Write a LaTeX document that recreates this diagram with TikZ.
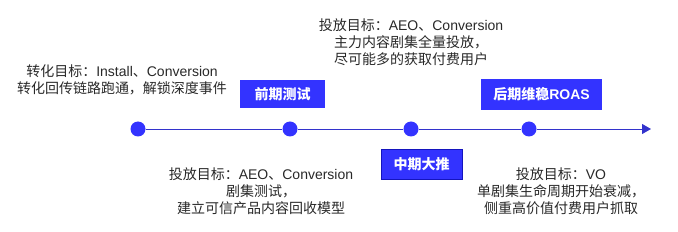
\documentclass[tikz,border=0pt]{standalone}
\usepackage{fontspec}
\setmainfont{Noto Sans CJK SC}
\newfontfamily\lat{Liberation Sans}
\newcommand{\en}[1]{{\lat #1}}
\usetikzlibrary{arrows.meta}
\definecolor{mainblue}{RGB}{51,51,255}
\definecolor{boxedge}{RGB}{20,20,190}
\definecolor{lineblue}{RGB}{51,51,204}
\definecolor{txt}{RGB}{40,40,40}
\tikzset{
  dot/.style={circle, fill=mainblue, draw=none, minimum size=15pt, inner sep=0pt},
  phase/.style={fill=mainblue, text=white, font=\fontsize{14pt}{16pt}\selectfont\bfseries, inner sep=0pt},
  desc/.style={text=txt, align=center, font=\fontsize{14pt}{17pt}\selectfont, inner sep=0pt},
  tline/.style={draw=lineblue, line width=0.9pt}
}
\begin{document}
\begin{tikzpicture}[x=1pt,y=-1pt]
\useasboundingbox (0,0) rectangle (678,232);
% dots
\node[dot] (d1) at (138,129) {};
\node[dot] (d2) at (290,129) {};
\node[dot] (d3) at (411,129) {};
\node[dot] (d4) at (529,129) {};
\coordinate (tip) at (651,129);
% timeline
\draw[tline] (d1) -- (d2);
\draw[tline] (d2) -- (d3);
\draw[tline] (d3) -- (d4);
\draw[tline, -{Triangle[length=9pt,width=10pt]}] (d4) -- (tip);
% phase boxes
\node[phase, minimum width=85pt, minimum height=28pt] (p1) at (282.5,94) {前期测试};
\node[phase, draw=boxedge, line width=0.8pt, minimum width=81pt, minimum height=30pt] (p2) at (421.5,164) {中期大推};
\node[phase, minimum width=121pt, minimum height=31pt] (p3) at (541.5,94.5) {后期维稳\en{ROAS}};
% descriptions
\node[desc] (t1) at (122,80) {转化目标：\en{Install}、\en{Conversion}\\转化回传链路跑通，解锁深度事件};
\node[desc] (t2) at (411,42) {投放目标：\en{AEO}、\en{Conversion}\\主力内容剧集全量投放，\\尽可能多的获取付费用户};
\node[desc] (t3) at (261,191) {投放目标：\en{AEO}、\en{Conversion}\\剧集测试，\\建立可信产品内容回收模型};
\node[desc] (t4) at (561,191) {投放目标：\en{VO}\\单剧集生命周期开始衰减，\\侧重高价值付费用户抓取};
\end{tikzpicture}
\end{document}
